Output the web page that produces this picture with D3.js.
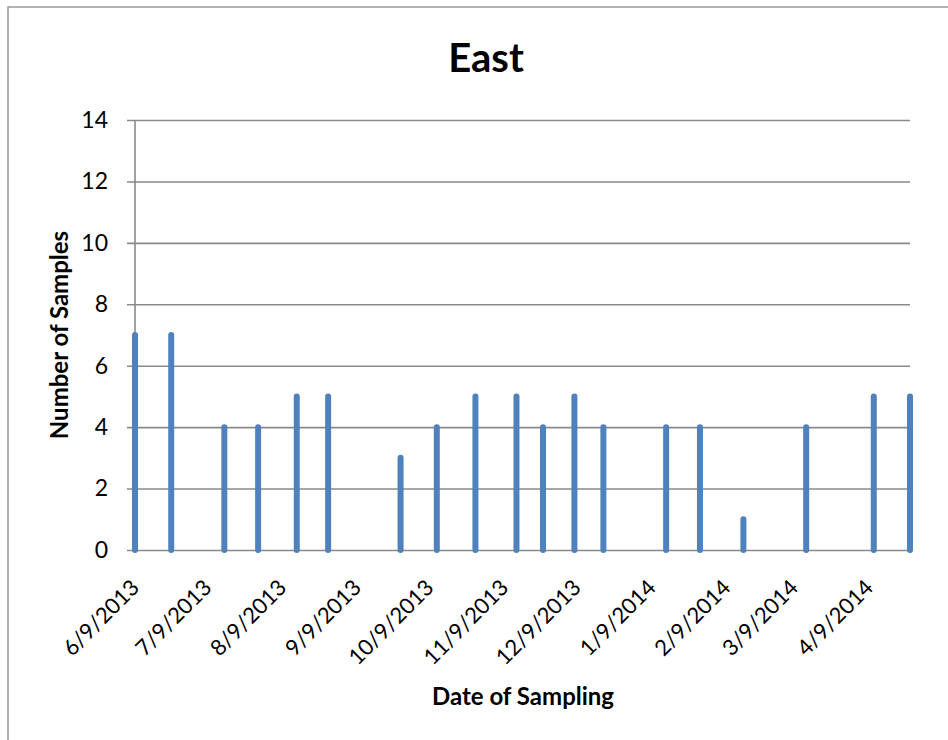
<!DOCTYPE html>
<html>
<head>
<meta charset="utf-8">
<script src="https://cdn.jsdelivr.net/npm/d3@7"></script>
<style>
  html, body { margin: 0; padding: 0; background: #fff; }
  svg { display: block; font-family: Lato, "Noto Sans", sans-serif; }
</style>
</head>
<body>
<svg id="chart" width="948" height="740"></svg>
<script>
// Sampling dates and number of samples taken on each date
const sampleDates = [
  "2013-06-09", "2013-06-24", "2013-07-16", "2013-07-30", "2013-08-15",
  "2013-08-28", "2013-09-27", "2013-10-12", "2013-10-28", "2013-11-14",
  "2013-11-25", "2013-12-08", "2013-12-20", "2014-01-15", "2014-01-29",
  "2014-02-16", "2014-03-14", "2014-04-11", "2014-04-26"
];
const sampleCounts = [7, 7, 4, 4, 5, 5, 3, 4, 5, 5, 4, 5, 4, 4, 4, 1, 4, 5, 5];

// Monthly date-axis labels
const xTickDates = [
  "2013-06-09", "2013-07-09", "2013-08-09", "2013-09-09", "2013-10-09",
  "2013-11-09", "2013-12-09", "2014-01-09", "2014-02-09", "2014-03-09", "2014-04-09"
];
const yTicks = [0, 2, 4, 6, 8, 10, 12, 14];

const chartTitle = "East";
const xTitle = "Date of Sampling";
const yTitle = "Number of Samples";

const fontFamily = 'Lato, "Noto Sans", sans-serif';
const parse = d3.timeParse("%Y-%m-%d");
const data = sampleDates.map((d, i) => ({ date: parse(d), count: sampleCounts[i] }));
const ticks = xTickDates.map(parse);

const svg = d3.select("#chart");
const plot = { left: 135, right: 910, top: 120, bottom: 550 };

const x = d3.scaleTime()
  .domain(d3.extent(data, d => d.date))
  .range([plot.left, plot.right]);
const y = d3.scaleLinear()
  .domain([0, 14])
  .range([plot.bottom, plot.top]);

const gridColor = "#8a8a8a";

// outer chart frame
svg.append("rect")
  .attr("x", 8).attr("y", 7)
  .attr("width", 960).attr("height", 760)
  .attr("fill", "none")
  .attr("stroke", "#9a9a9a")
  .attr("stroke-width", 1.5);

// horizontal gridlines and y axis
const yAxis = d3.axisLeft(y)
  .tickValues(yTicks)
  .tickSize(plot.right - plot.left + 8)
  .tickFormat(d3.format("d"));

const yg = svg.append("g")
  .attr("transform", `translate(${plot.right},0)`)
  .call(yAxis)
  .attr("font-family", fontFamily)
  .attr("font-size", 23);
yg.select(".domain").remove();
yg.selectAll(".tick line")
  .attr("stroke", gridColor)
  .attr("stroke-width", 1.6);
yg.selectAll(".tick text")
  .attr("x", -(plot.right - 108))
  .attr("fill", "#000");

// vertical y-axis line
svg.append("line")
  .attr("x1", plot.left).attr("x2", plot.left)
  .attr("y1", y(14)).attr("y2", y(0))
  .attr("stroke", gridColor)
  .attr("stroke-width", 1.6);

// sample bars
svg.append("g")
  .selectAll("line")
  .data(data)
  .join("line")
  .attr("x1", d => x(d.date))
  .attr("x2", d => x(d.date))
  .attr("y1", y(0))
  .attr("y2", d => y(d.count))
  .attr("stroke", "#4f81bd")
  .attr("stroke-width", 6)
  .attr("stroke-linecap", "round");

// date axis labels
const xAxis = d3.axisBottom(x)
  .tickValues(ticks)
  .tickSize(0)
  .tickFormat(d3.timeFormat("%-m/%-d/%Y"));

const xg = svg.append("g")
  .attr("transform", `translate(0,${plot.bottom})`)
  .call(xAxis)
  .attr("font-family", fontFamily)
  .attr("font-size", 22);
xg.select(".domain").remove();
xg.selectAll(".tick text")
  .attr("fill", "#000")
  .attr("text-anchor", "end")
  .attr("dy", 0)
  .attr("y", 0)
  .attr("transform", "translate(5,39) rotate(-45)");

// titles
svg.append("text")
  .attr("x", 486).attr("y", 72)
  .attr("text-anchor", "middle")
  .style("font-size", "40px")
  .style("font-weight", "bold")
  .text(chartTitle);

svg.append("text")
  .attr("x", 523).attr("y", 705)
  .attr("text-anchor", "middle")
  .style("font-size", "24px")
  .style("font-weight", "bold")
  .text(xTitle);

svg.append("text")
  .attr("transform", "translate(68,335) rotate(-90)")
  .attr("text-anchor", "middle")
  .style("font-size", "24px")
  .style("font-weight", "bold")
  .text(yTitle);
</script>
</body>
</html>
